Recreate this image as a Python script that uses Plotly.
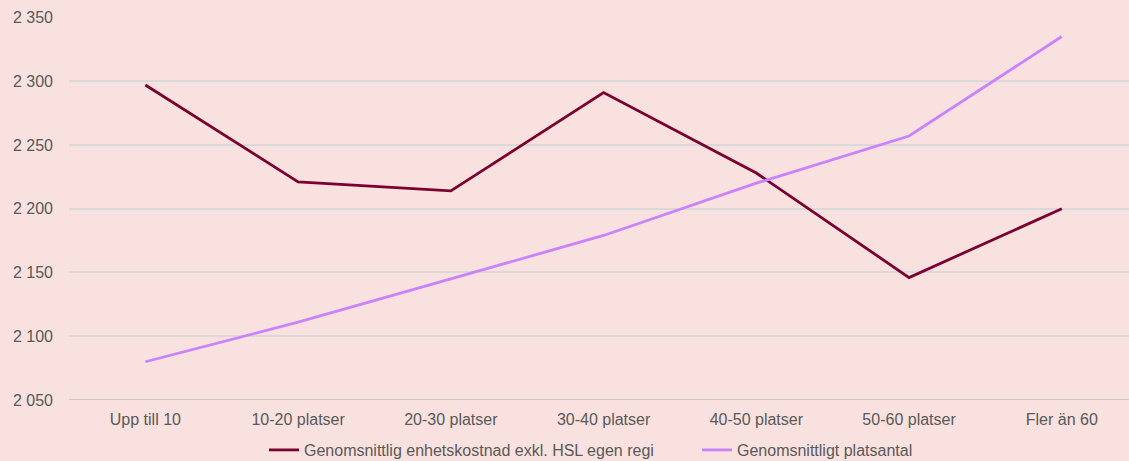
import plotly.graph_objects as go

categories = ["Upp till 10", "10-20 platser", "20-30 platser", "30-40 platser",
              "40-50 platser", "50-60 platser", "Fler än 60"]
kostnad = [2297, 2221, 2214, 2291, 2228, 2146, 2200]
platsantal = [2080, 2111, 2145, 2179, 2220, 2257, 2335]
names = ["Genomsnittlig enhetskostnad exkl. HSL egen regi", "Genomsnittligt platsantal"]
colors = ["#7A0030", "#C983FF"]

bg = "#F8E1DE"
txt = "#595959"

fig = go.Figure()
fig.add_trace(go.Scatter(x=list(range(len(categories))), y=kostnad, mode="lines",
                         name=names[0], line=dict(color=colors[0], width=2.8)))
fig.add_trace(go.Scatter(x=list(range(len(categories))), y=platsantal, mode="lines",
                         name=names[1], line=dict(color=colors[1], width=2.8)))

fig.update_layout(
    width=1129, height=461,
    paper_bgcolor=bg, plot_bgcolor=bg,
    margin=dict(l=69, r=0, t=17, b=61),
    separators=", ",
    font=dict(family="Liberation Sans, Arial, sans-serif", size=16, color=txt),
    showlegend=True,
    legend=dict(orientation="h", xref="container", x=264 / 1129, xanchor="left",
                yref="container", y=1 - 433 / 461, yanchor="top",
                font=dict(size=16, color=txt), itemwidth=30,
                entrywidth=388, entrywidthmode="pixels",
                bgcolor="rgba(0,0,0,0)"),
    xaxis=dict(
        tickmode="array", tickvals=list(range(len(categories))), ticktext=categories,
        range=[-0.5, 6.44], showgrid=False, zeroline=False, showline=False,
        ticks="", ticklen=0, tickfont=dict(size=16, color=txt), ticklabelstandoff=8,
    ),
    yaxis=dict(
        range=[2050, 2350.3], dtick=50, tick0=2050, tickformat=",d",
        showgrid=True, gridcolor="#D9D9D9", gridwidth=1.5, zeroline=False,
        showline=False, ticks="", tickfont=dict(size=16, color=txt), ticklabelstandoff=15,
    ),
)
fig.add_shape(type="line", xref="paper", yref="y", x0=0, x1=1, y0=2050, y1=2050,
              line=dict(color="#BFBFBF", width=1.5))

fig.write_html("out.html", config={"displayModeBar": False},
               post_script="document.body.style.margin='0';document.body.style.overflow='hidden';document.body.style.background='%s';" % bg)
